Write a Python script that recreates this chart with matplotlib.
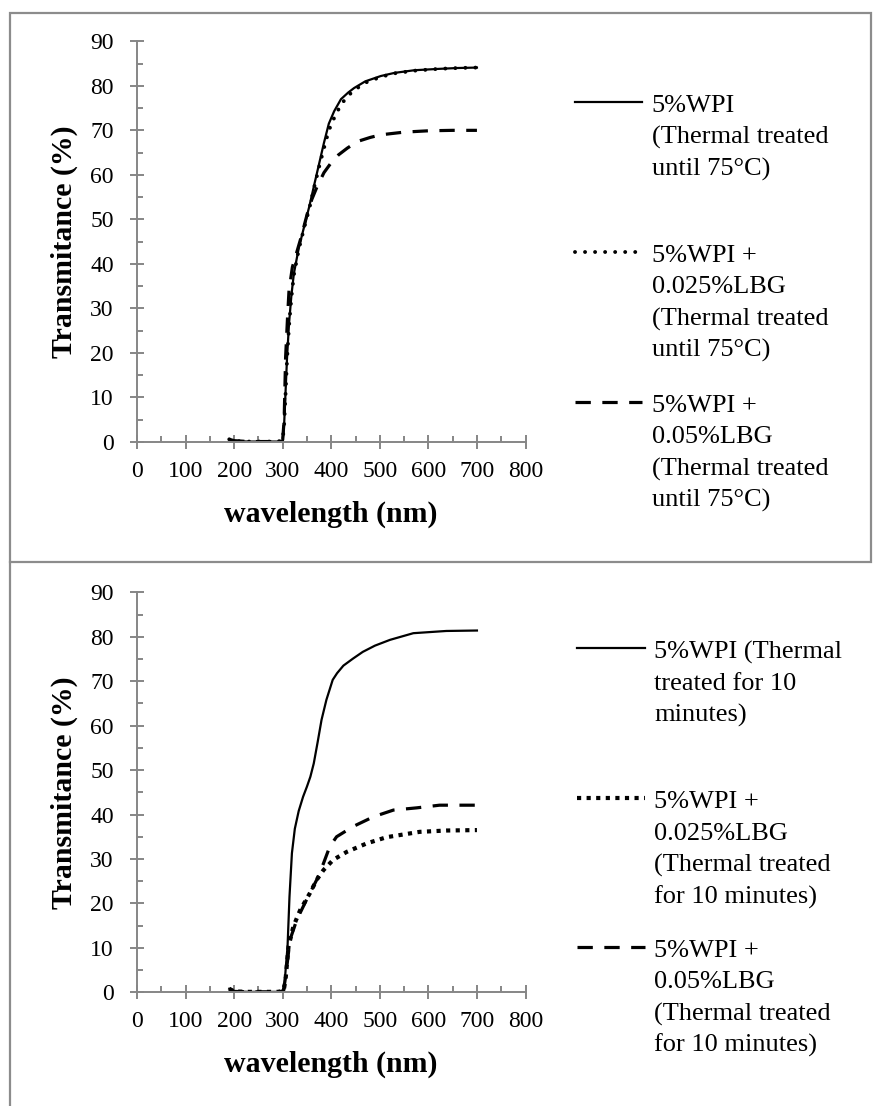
import matplotlib
matplotlib.use('Agg')
import matplotlib.pyplot as plt
from matplotlib.lines import Line2D
from matplotlib.patches import Rectangle
from matplotlib.ticker import MultipleLocator

plt.rcParams['font.family'] = 'Liberation Serif'

W, H = 873, 1106
GRAY = '#868686'

# ---- top panel: thermal treated until 75 C ----
wl_a1 = [190, 200, 230, 260, 290, 300, 303, 306, 309, 313, 318, 323, 333, 344, 355, 365,
         375, 385, 395, 406, 420, 435, 447, 470, 502, 530, 571, 620, 660, 700]
tr_a1 = [0.6, 0.2, 0.1, 0.1, 0.1, 0.4, 4, 11.5, 19, 26.5, 33, 37.8, 43.5, 48.3, 53, 57.8,
         62.5, 67.2, 71.5, 74.3, 77, 78.5, 79.5, 81, 82.2, 82.9, 83.5, 83.8, 84, 84.1]

wl_a2 = [190, 200, 230, 260, 290, 300, 303, 306, 309, 313, 318, 323, 333, 344, 355, 365,
         375, 385, 395, 406, 420, 435, 447, 470, 502, 530, 571, 620, 660, 700]
tr_a2 = [0.6, 0.2, 0.1, 0.1, 0.1, 0.4, 4, 11, 18.5, 26, 32.5, 37.5, 43.2, 48, 52.5, 57.3,
         61.8, 66, 70, 72.8, 75.8, 77.8, 79, 80.7, 82, 82.8, 83.4, 83.8, 84, 84.1]

wl_a3 = [190, 200, 230, 260, 290, 300, 303, 306, 310, 313, 320, 330, 338, 351, 360, 371,
         385, 399, 415, 433, 454, 480, 502, 550, 600, 650, 700]
tr_a3 = [0.6, 0.3, 0.1, 0.1, 0.1, 0.5, 5, 19, 28, 34, 39.3, 43, 46, 51.4, 54.5, 57.4,
         60.5, 62.6, 64.5, 66, 67.5, 68.4, 69, 69.6, 69.9, 70, 70]

# ---- bottom panel: thermal treated for 10 minutes ----
wl_b1 = [190, 200, 230, 260, 290, 300, 303, 306, 310, 314, 319, 325, 333, 342, 350, 357,
         364, 372, 380, 390, 403, 412, 425, 445, 465, 490, 521, 569, 637, 700]
tr_b1 = [0.8, 0.2, 0.1, 0.1, 0.1, 0.4, 0.5, 5, 10.3, 21.5, 31.3, 36.8, 40.8, 44, 46.3, 48.5,
         51.5, 56.3, 61.3, 65.8, 70.3, 71.8, 73.5, 75.1, 76.6, 78, 79.3, 80.8, 81.3, 81.4]

wl_b2 = [190, 200, 230, 260, 290, 300, 303, 306, 312, 322, 336, 356, 370, 384, 404, 432,
         473, 514, 582, 637, 700]
tr_b2 = [0.8, 0.2, 0.1, 0.1, 0.1, 0.3, 1, 3, 10.3, 14.8, 18.5, 22.3, 25.3, 27.5, 29.8, 31.6,
         33.5, 34.9, 36.1, 36.4, 36.5]

wl_b3 = [190, 200, 230, 260, 290, 302, 307, 315, 329, 349, 370, 384, 397, 411, 445, 487,
         528, 576, 623, 700]
tr_b3 = [0.8, 0.2, 0.1, 0.1, 0.1, 0.5, 4.3, 11.8, 16.3, 20.8, 25.3, 29, 32.8, 35, 37.3, 39.5,
         41, 41.5, 42.1, 42.1]

labels_a = [['5%WPI', '(Thermal treated', 'until 75°C)'],
            ['5%WPI +', '0.025%LBG', '(Thermal treated', 'until 75°C)'],
            ['5%WPI +', '0.05%LBG', '(Thermal treated', 'until 75°C)']]
labels_b = [['5%WPI (Thermal', 'treated for 10', 'minutes)'],
            ['5%WPI +', '0.025%LBG', '(Thermal treated', 'for 10 minutes)'],
            ['5%WPI +', '0.05%LBG', '(Thermal treated', 'for 10 minutes)']]

solid = dict(color='black', lw=1.6, ls='-')
dots_round = dict(color='black', lw=2.8, ls=(0, (0.01, 2.57)), dash_capstyle='round')
dots_square = dict(color='black', lw=3.0, ls=(0, (1, 1.3)), dash_capstyle='butt')
dashed = dict(color='black', lw=2.3, ls=(0, (4.8, 3.6)), dash_capstyle='butt')

fig = plt.figure(figsize=(W / 100, H / 100), dpi=100)

# panel frames
fig.add_artist(Rectangle((10 / W, 1 - 561.7 / H), 861 / W, 549 / H, transform=fig.transFigure,
                         fill=False, ec='#8c8c8c', lw=1.6))
fig.add_artist(Line2D([10 / W, 10 / W], [0, 1 - 561.7 / H], transform=fig.transFigure,
                      color='#8c8c8c', lw=1.6))

x0, x1 = 137, 525.5


def make_axes(top, bottom):
    ax = fig.add_axes([x0 / W, 1 - bottom / H, (x1 - x0) / W, (bottom - top) / H])
    ax.set_xlim(0, 800)
    ax.set_ylim(0, 90)
    ax.xaxis.set_major_locator(MultipleLocator(100))
    ax.xaxis.set_minor_locator(MultipleLocator(50))
    ax.yaxis.set_major_locator(MultipleLocator(10))
    ax.yaxis.set_minor_locator(MultipleLocator(5))
    for s in ['top', 'right']:
        ax.spines[s].set_visible(False)
    for s in ['left', 'bottom']:
        ax.spines[s].set_color(GRAY)
        ax.spines[s].set_linewidth(1.4)
    ax.tick_params(which='major', direction='inout', length=9.4, width=1.4, color=GRAY,
                   labelsize=17, labelcolor='black')
    ax.tick_params(axis='x', which='major', pad=9)
    ax.tick_params(axis='y', which='major', pad=12)
    ax.tick_params(which='minor', direction='in', length=4.3, width=1.4, color=GRAY)
    ax.text(0.5, -0.18, 'wavelength (nm)', transform=ax.transAxes, ha='center', va='center',
            fontsize=21.5, fontweight='bold')
    ax.text(-0.186, 0.5, 'Transmitance (%)', transform=ax.transAxes, ha='center', va='center',
            rotation=90, fontsize=21.5, fontweight='bold')
    return ax


def legend(entries, styles, ys, lx0, lx1, tx):
    for y0, st, lines in zip(ys, styles, entries):
        fig.add_artist(Line2D([lx0 / W, lx1 / W], [1 - y0 / H] * 2, transform=fig.transFigure, **st))
        for i, s in enumerate(lines):
            fig.text(tx / W, 1 - (y0 + 10 + i * 31.7) / H, s, va='baseline', ha='left', fontsize=19)


ax_a = make_axes(41.3, 442)
ax_a.plot(wl_a1, tr_a1, **solid)
ax_a.plot(wl_a2, tr_a2, **dots_round)
ax_a.plot(wl_a3, tr_a3, **dashed)
legend(labels_a, [solid, dots_round, dashed], [101.7, 251.7, 401.7], 575, 642, 651.7)

ax_b = make_axes(592.3, 992.3)
ax_b.plot(wl_b1, tr_b1, **solid)
ax_b.plot(wl_b2, tr_b2, **dots_square)
ax_b.plot(wl_b3, tr_b3, **dashed)
legend(labels_b, [solid, dots_square, dashed], [648.3, 798.3, 946.7], 577, 645, 654)

fig.savefig('out.png', dpi=100)
